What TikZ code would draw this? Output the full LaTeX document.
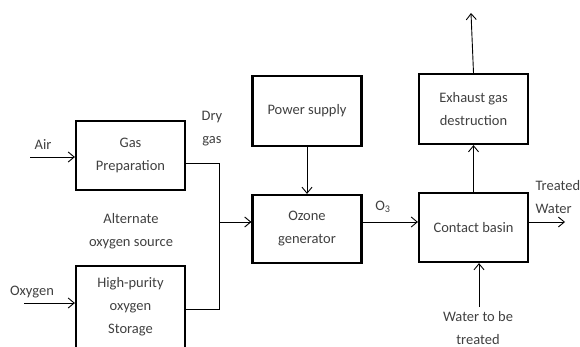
\documentclass[tikz,border=0pt]{standalone}
\usepackage{fontspec}
\setmainfont{Carlito}
\usetikzlibrary{arrows.meta}

\begin{document}
\begin{tikzpicture}[x=1pt,y=-1pt,
  unit/.style={draw,line width=2.2pt,minimum width=109pt,align=center,
    font=\fontsize{14.5}{23}\selectfont,text=black!75},
  flow/.style={line width=0.9pt,-{Straight Barb[length=6pt,width=10pt]}},
  lbl/.style={align=center,font=\fontsize{14.5}{23}\selectfont,text=black!75}]
  \useasboundingbox (0,0) rectangle (580,347);
  % boxes
  \foreach \nm/\x/\y/\h/\txt in {
    prep/130.5/155.5/69/{Gas\\Preparation},
    store/130.5/307/82/{High-purity\\oxygen\\Storage},
    power/307/111/70/{Power supply},
    ozone/307/229/68/{Ozone\\generator},
    exhaust/473.5/109/70/{Exhaust gas\\destruction},
    basin/473.5/227.5/69/{Contact basin}}
  {
    \node[unit,minimum height=\h pt] (\nm) at (\x,\y) {\txt};
  }
  % free ends
  \coordinate (airin) at (30,157);
  \coordinate (oxin) at (24,303);
  \coordinate (junc) at (219,222);
  \coordinate (exout) at (471,13);
  \coordinate (wout) at (565,222);
  \coordinate (win) at (479,307);
  % connectors
  \draw[flow] (airin) -- (airin -| prep.west);
  \draw[flow] (oxin) -- (oxin -| store.west);
  \draw[line width=0.9pt] ([yshift=-7.5pt]prep.east) -| (junc);
  \draw[line width=0.9pt] ([yshift=-2pt]store.east) -| (junc);
  \draw[flow] (junc) -- (junc -| ozone.west);
  \draw[flow] (power) -- (ozone);
  \draw[flow] (ozone.east |- junc) -- (basin.west |- junc);
  \draw[flow] (basin.east |- junc) -- (wout);
  \draw[flow] (basin) -- (exhaust);
  \draw[flow] (exhaust.north) -- (exout);
  \draw[flow] (win) -- (win |- basin.south);
  % labels
  \node[lbl] at (43,145) {Air};
  \node[lbl] at (32,292) {Oxygen};
  \node[lbl] at (212,129) {Dry\\gas};
  \node[lbl] at (131,231) {Alternate\\oxygen source};
  \node[lbl] at (383,207) {O\textsubscript{3}};
  \node[lbl,align=left,anchor=west] at (532,197) {Treated\\Water};
  \node[lbl,inner sep=0.5pt] at (478,328) {Water to be\\treated};
\end{tikzpicture}
\end{document}
